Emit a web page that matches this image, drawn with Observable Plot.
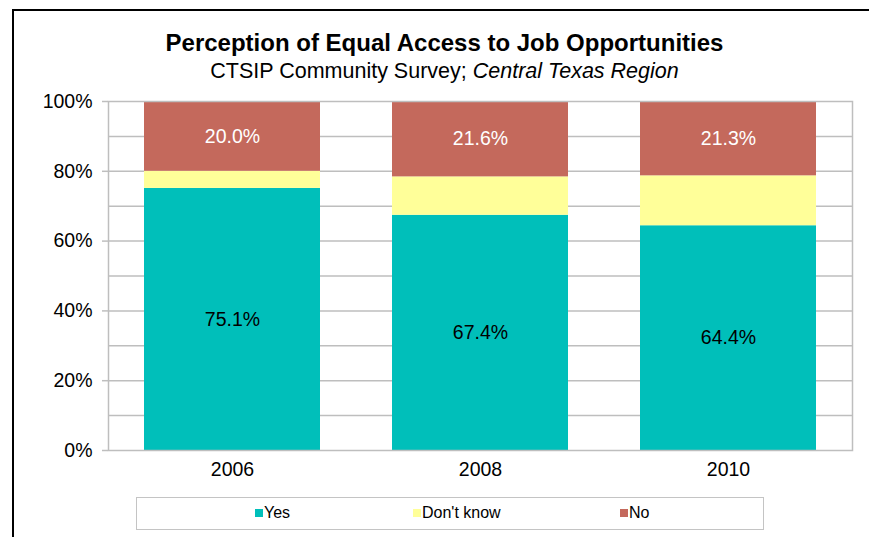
<!DOCTYPE html>
<html>
<head>
<meta charset="utf-8">
<script src="https://cdn.jsdelivr.net/npm/d3@7"></script>
<script src="https://cdn.jsdelivr.net/npm/@observablehq/plot@0.6"></script>
<style>
  html, body { margin: 0; padding: 0; background: #fff; }
  #wrap { position: relative; width: 869px; height: 537px; overflow: hidden; font-family: "Liberation Sans", Arial, sans-serif; }
  #frame { position: absolute; left: 12px; top: 9px; width: 900px; height: 600px; border-left: 2px solid #000; border-top: 2px solid #000; box-sizing: border-box; }
  #title { position: absolute; left: 0; width: 889px; top: 29px; text-align: center; font-weight: bold; font-size: 24px; line-height: 28px; color: #000; }
  #subtitle { position: absolute; left: 0; width: 889px; top: 58px; text-align: center; font-size: 21.5px; line-height: 26px; color: #000; }
  #chart { position: absolute; left: 0; top: 80px; }
  #legend { position: absolute; left: 136px; top: 497px; width: 628px; height: 33px; border: 1.5px solid #c4c4c4; box-sizing: border-box; font-size: 16px; }
  .item { position: absolute; top: 6px; display: flex; align-items: center; }
  .sw { width: 8px; height: 8px; margin-right: 1px; }
</style>
</head>
<body>
<div id="wrap">
  <div id="frame"></div>
  <div id="title">Perception of Equal Access to Job Opportunities</div>
  <div id="subtitle">CTSIP Community Survey; <i>Central Texas Region</i></div>
  <div id="chart"></div>
  <div id="legend"></div>
</div>
<script>
const years = ["2006", "2008", "2010"];
const categories = ["Yes", "Don't know", "No"];
const yesValues = [75.1, 67.4, 64.4];
const dontKnowValues = [4.9, 11.0, 14.3];
const noValues = [20.0, 21.6, 21.3];
const colors = ["#00BFBA", "#FFFF99", "#C4695C"];
const yTicks = [0, 0.2, 0.4, 0.6, 0.8, 1.0];
const gridValues = [0.1, 0.2, 0.3, 0.4, 0.5, 0.6, 0.7, 0.8, 0.9];

const series = [yesValues, dontKnowValues, noValues];
const data = [];
years.forEach((yr, i) => {
  categories.forEach((c, j) => {
    data.push({year: yr, category: c, value: series[j][i] / 100});
  });
});

const chart = Plot.plot({
  width: 869,
  height: 410,
  marginTop: 21,
  marginBottom: 40,
  marginLeft: 108,
  marginRight: 17,
  style: {fontFamily: "Liberation Sans, Arial, sans-serif", fontSize: "19.5px", color: "#000", background: "transparent"},
  x: {domain: years, paddingInner: 0.29, paddingOuter: 0.145, label: null},
  y: {domain: [0, 1], label: null},
  color: {domain: categories, range: colors},
  marks: [
    Plot.ruleY(gridValues, {stroke: "#bebebe", strokeWidth: 1.5}),
    Plot.barY(data, {x: "year", y: "value", fill: "category", order: categories, z: "category"}),
    Plot.frame({stroke: "#bebebe", strokeWidth: 1.5}),
    Plot.text(data, Plot.stackY({
      x: "year", y: "value", z: "category", order: categories,
      text: d => d.category === "Don't know" ? "" : (d.value * 100).toFixed(1) + "%",
      fill: d => d.category === "No" ? "#ffffff" : "#000000",
      fontSize: 19.5
    })),
    Plot.axisY({ticks: yTicks, tickFormat: d3.format(".0%"), tickSize: 6, tickPadding: 10, stroke: "#bebebe", fill: "#000", strokeWidth: 1.5, fontSize: 19.5}),
    Plot.axisX({tickSize: 0, tickPadding: 12, fill: "#000", fontSize: 19.5})
  ]
});
document.getElementById("chart").appendChild(chart);

// legend
const legend = document.getElementById("legend");
const legendX = [118, 276, 483];
categories.forEach((c, i) => {
  const item = document.createElement("div");
  item.className = "item";
  item.style.left = legendX[i] + "px";
  const sw = document.createElement("span");
  sw.className = "sw";
  sw.style.background = colors[i];
  const t = document.createElement("span");
  t.textContent = c;
  item.appendChild(sw);
  item.appendChild(t);
  legend.appendChild(item);
});
</script>
</body>
</html>
